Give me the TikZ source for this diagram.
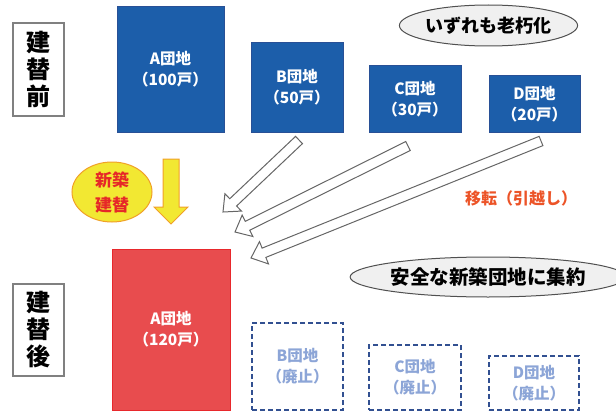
\documentclass[tikz,border=0pt]{standalone}
\usepackage{fontspec}
\newfontfamily\jp{Noto Sans CJK JP}
\usetikzlibrary{shapes.geometric,calc}
\definecolor{boxblue}{RGB}{28,94,170}
\definecolor{boxblueline}{RGB}{40,80,150}
\definecolor{boxred}{RGB}{232,76,78}
\definecolor{boxredline}{RGB}{232,40,44}
\definecolor{dashline}{RGB}{50,80,145}
\definecolor{dashtext}{RGB}{140,165,215}
\definecolor{ovalfill}{RGB}{240,240,240}
\definecolor{ovalline}{RGB}{80,80,80}
\definecolor{movetext}{RGB}{236,84,40}
\definecolor{yfill}{RGB}{242,232,50}
\definecolor{yline}{RGB}{240,160,40}
\definecolor{shintext}{RGB}{230,40,40}
\tikzset{
  every node/.style={font=\jp},
  boxfont/.style={font=\jp\bfseries\fontsize{15.5}{21}\selectfont},
  bluebox/.style={draw=boxblueline, line width=1pt, fill=boxblue, text=white, inner sep=0pt, align=center, boxfont},
  redbox/.style={draw=boxredline, line width=1pt, fill=boxred, text=white, inner sep=0pt, align=center, boxfont},
  dashbox/.style={draw=dashline, line width=1.6pt, dash pattern=on 5pt off 3pt, fill=white, text=dashtext, inner sep=0pt, align=center, boxfont},
  labelbox/.style={draw=gray, line width=1.3pt, fill=white, inner sep=0pt, align=center, font=\jp\bfseries\fontsize{24}{27}\selectfont},
  oval/.style={ellipse, draw=ovalline, line width=1pt, fill=ovalfill, inner sep=0pt, font=\jp\bfseries},
  hollow/.style={draw=gray!80!black, line width=1pt, fill=white, line join=miter},
}
\newcommand\movearrow[3]{%
  \coordinate (#3) at ($(#2)!14pt!(#1)$);
  \draw[hollow] ($(#1)!5pt!90:(#2)$) -- ($(#3)!5pt!-90:(#1)$) -- ($(#3)!12pt!-90:(#1)$) -- (#2)
    -- ($(#3)!12pt!90:(#1)$) -- ($(#3)!5pt!90:(#1)$) -- ($(#1)!5pt!-90:(#2)$) -- cycle;
}
\begin{document}
\begin{tikzpicture}[x=1pt,y=-1pt]
\useasboundingbox (0,0) rectangle (616,412);
% labels
\node[labelbox, minimum width=51, minimum height=93] (before) at (38.5,69.5) {建\\替\\前};
\node[labelbox, minimum width=51, minimum height=92] (after) at (38.5,330) {建\\替\\後};
% old estates
\node[bluebox, minimum width=107, minimum height=125] (A) at (170.5,69.5) {A団地\\（100戸）};
\node[bluebox, minimum width=92, minimum height=89] (B) at (297,87.5) {B団地\\（50戸）};
\node[bluebox, minimum width=92, minimum height=66] (C) at (415,99) {C団地\\（30戸）};
\node[bluebox, minimum width=91, minimum height=56] (D) at (534.5,104) {D団地\\（20戸）};
\node[oval, minimum width=165, minimum height=41, font=\jp\bfseries\fontsize{18}{20}\selectfont] (old) at (488.5,25.5) {いずれも老朽化};
% new estates
\node[redbox, minimum width=118, minimum height=161] (A2) at (171,329.5) {A団地\\（120戸）};
\node[dashbox, minimum width=91, minimum height=87] (B2) at (297.5,366.5) {B団地\\（廃止）};
\node[dashbox, minimum width=92, minimum height=65] (C2) at (415,377.5) {C団地\\（廃止）};
\node[dashbox, minimum width=90, minimum height=54] (D2) at (534,383) {D団地\\（廃止）};
\node[oval, minimum width=238, minimum height=40, font=\jp\bfseries\fontsize{19.5}{21}\selectfont] (new) at (488,277) {安全な新築団地に集約};
% rebuild marker
\node[ellipse, draw=yline, line width=1pt, fill=yfill, minimum width=80, minimum height=60, inner sep=0pt, text=shintext, align=center, font=\jp\bfseries\fontsize{17}{25}\selectfont] (shin) at (112,192) {新築\\建替};
\coordinate (ytop) at (171,159);
\coordinate (ytip) at (171,224);
\draw[draw=yline, fill=yfill, line width=1pt, line join=miter]
  ($(ytop)+(-8,0)$) -- ($(ytop)+(8,0)$) -- ($(ytip)+(8,-17)$) -- ($(ytip)+(17,-17)$) -- (ytip)
  -- ($(ytip)+(-17,-17)$) -- ($(ytip)+(-8,-17)$) -- cycle;
% moves
\node[text=movetext, font=\jp\bfseries\fontsize{16}{18}\selectfont, inner sep=0pt] (move) at (521,198) {移転（引越し）};
\coordinate (tB) at (299,140);
\coordinate (hB) at (223,212);
\coordinate (tC) at (408,146);
\coordinate (hC) at (235,232);
\coordinate (tD) at (541,141);
\coordinate (hD) at (251,258);
\movearrow{tD}{hD}{bD}
\movearrow{tC}{hC}{bC}
\movearrow{tB}{hB}{bB}
\end{tikzpicture}
\end{document}
